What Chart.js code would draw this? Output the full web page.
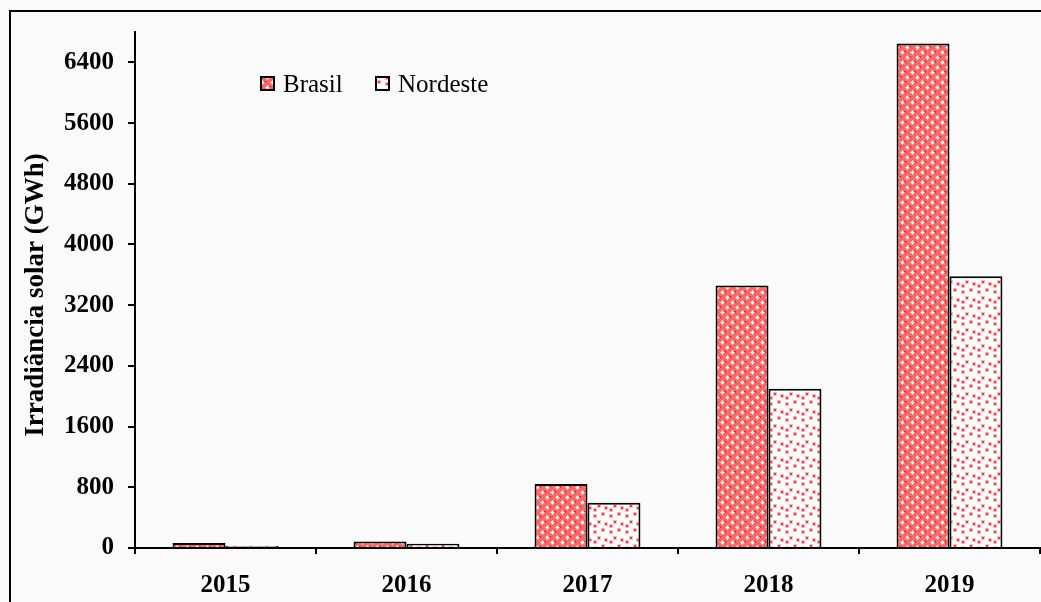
<!DOCTYPE html>
<html>
<head>
<meta charset="utf-8">
<script src="https://cdn.jsdelivr.net/npm/chart.js@4"></script>
<style>
  body { margin: 0; background: #fafafa; }
  canvas { display: block; }
</style>
</head>
<body>
<canvas id="myChart" width="1041" height="602"></canvas>
<script>
const years = ['2015', '2016', '2017', '2018', '2019'];
const brasil = [65, 85, 845, 3460, 6650];
const nordeste = [25, 55, 595, 2100, 3580];
const yTicks = [0, 800, 1600, 2400, 3200, 4000, 4800, 5600, 6400];

const serif = '"Liberation Serif", "Times New Roman", serif';

// red lattice with white pluses
function brasilPattern() {
  const c = document.createElement('canvas');
  c.width = 10; c.height = 10;
  const g = c.getContext('2d');
  g.fillStyle = '#f66';
  g.fillRect(0, 0, 10, 10);
  g.fillStyle = '#f22';
  g.fillRect(4, 1, 2, 2);
  g.fillRect(0, 6, 1, 2);
  g.fillRect(9, 6, 1, 2);
  g.fillStyle = '#fbb';
  [[2, 2], [7, 7]].forEach(([x, y]) => {
    g.fillRect(x - 2, y, 5, 1);
    g.fillRect(x, y - 2, 1, 5);
    g.fillRect(x - 1, y - 1, 3, 3);
  });
  g.fillStyle = '#fff';
  [[2, 2], [7, 7]].forEach(([x, y]) => {
    g.fillRect(x - 1, y, 3, 1);
    g.fillRect(x, y - 1, 1, 3);
  });
  return g.createPattern(c, 'repeat');
}

// white with scattered red dots
function nordestePattern() {
  const c = document.createElement('canvas');
  c.width = 16; c.height = 16;
  const g = c.getContext('2d');
  g.fillStyle = '#fff';
  g.fillRect(0, 0, 16, 16);
  const dots = [[2, 3], [10, 1], [6, 9], [13, 11], [2, 13]];
  g.fillStyle = '#fbb';
  dots.forEach(([x, y]) => g.fillRect(x - 1, y - 1, 4, 4));
  g.fillStyle = '#f33';
  dots.forEach(([x, y]) => g.fillRect(x, y, 2, 2));
  return g.createPattern(c, 'repeat');
}

const patA = brasilPattern();
const patB = nordestePattern();

const decor = {
  id: 'decor',
  beforeDraw(chart) {
    const ctx = chart.ctx;
    ctx.save();
    ctx.fillStyle = '#fafafa';
    ctx.fillRect(0, 0, chart.width, chart.height);
    ctx.strokeStyle = '#000';
    ctx.lineWidth = 2;
    ctx.strokeRect(10, 11, 1100, 700);
    ctx.restore();
  },
  afterDraw(chart) {
    const ctx = chart.ctx;
    ctx.save();
    // y axis title
    ctx.translate(36, 295);
    ctx.rotate(-Math.PI / 2);
    ctx.fillStyle = '#000';
    ctx.font = 'bold 27px ' + serif;
    ctx.textAlign = 'center';
    ctx.textBaseline = 'middle';
    ctx.fillText('Irradiância solar (GWh)', 0, 0);
    ctx.restore();

    // legend inside plot
    ctx.save();
    ctx.font = '25px ' + serif;
    ctx.textBaseline = 'middle';
    const items = [
      { label: 'Brasil', fill: patA, x: 261 },
      { label: 'Nordeste', fill: patB, x: 376 }
    ];
    items.forEach(it => {
      ctx.fillStyle = it.fill;
      ctx.fillRect(it.x, 77, 13, 13);
      ctx.strokeStyle = '#000';
      ctx.lineWidth = 2;
      ctx.strokeRect(it.x, 77, 13, 13);
      ctx.fillStyle = '#000';
      ctx.fillText(it.label, it.x + 22, 85);
    });
    ctx.restore();
  }
};

new Chart(document.getElementById('myChart').getContext('2d'), {
  type: 'bar',
  data: {
    labels: years,
    datasets: [
      { label: 'Brasil', data: brasil, backgroundColor: patA, borderColor: '#000', borderWidth: 2 },
      { label: 'Nordeste', data: nordeste, backgroundColor: patB, borderColor: '#000', borderWidth: 2 }
    ]
  },
  options: {
    responsive: false,
    animation: false,
    layout: { padding: { top: 32, right: 1, left: 0, bottom: 0 } },
    datasets: { bar: { barPercentage: 1, categoryPercentage: 0.585 } },
    plugins: { legend: { display: false }, tooltip: { enabled: false } },
    scales: {
      x: {
        grid: { drawOnChartArea: false, drawTicks: true, tickLength: 6, color: '#000', lineWidth: 2 },
        border: { color: '#000', width: 2 },
        ticks: { color: '#000', font: { family: serif, size: 25, weight: 'bold' }, padding: 17 },
        afterFit(scale) { scale.height = 54; }
      },
      y: {
        min: 0,
        max: 6800,
        grid: { drawOnChartArea: false, drawTicks: true, tickLength: 7, color: '#000', lineWidth: 2 },
        border: { color: '#000', width: 2 },
        ticks: {
          color: '#000',
          font: { family: serif, size: 25, weight: 'bold' },
          padding: 14,
          callback: v => String(v)
        },
        afterBuildTicks(scale) {
          scale.ticks = yTicks.map(v => ({ value: v }));
        },
        afterFit(scale) { scale.width = 135; }
      }
    }
  },
  plugins: [decor]
});
</script>
</body>
</html>
